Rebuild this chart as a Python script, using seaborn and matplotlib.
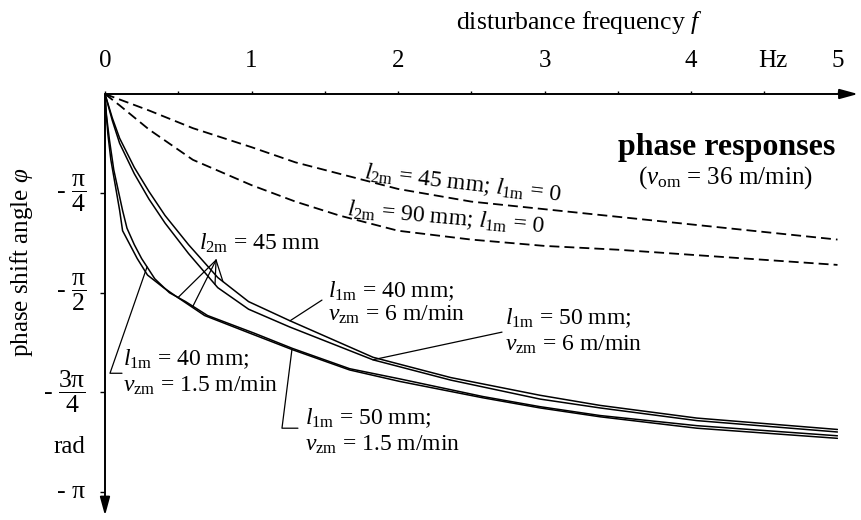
import matplotlib
matplotlib.use("Agg")
import matplotlib.pyplot as plt
import seaborn as sns
import numpy as np

# ---- data: frequency f in Hz, phase shift angle in rad ----
# dashed: l1m = 0
freq_l2m45 = [0, 0.3, 0.6, 1.0, 1.3, 1.6, 2.0, 2.5, 3.0, 3.5, 4.0, 4.5, 5.0]
phase_l2m45 = [0, -0.13, -0.27, -0.42, -0.54, -0.63, -0.75, -0.85, -0.91, -0.97, -1.03, -1.09, -1.15]

freq_l2m90 = [0, 0.1, 0.3, 0.6, 1.0, 1.3, 1.6, 2.0, 2.5, 3.0, 3.5, 4.0, 4.5, 5.0]
phase_l2m90 = [0, -0.09, -0.28, -0.52, -0.72, -0.85, -0.96, -1.08, -1.15, -1.20, -1.23, -1.27, -1.31, -1.35]

# solid, vzm = 6 m/min
freq_vz6 = [0, 0.05, 0.1, 0.2, 0.3, 0.41, 0.57, 0.77, 0.98, 1.26, 1.83, 2.36, 2.97, 3.38, 4.04, 5.0]
phase_l1m40_vz6 = [0, -0.19, -0.35, -0.58, -0.77, -0.96, -1.19, -1.45, -1.64, -1.79, -2.08, -2.24, -2.38, -2.46, -2.56, -2.65]
phase_l1m50_vz6 = [0, -0.21, -0.39, -0.63, -0.83, -1.02, -1.26, -1.53, -1.70, -1.84, -2.10, -2.26, -2.41, -2.48, -2.58, -2.67]

# solid, vzm = 1.5 m/min
freq_l1m40_vz15 = [0, 0.01, 0.03, 0.06, 0.09, 0.12, 0.15, 0.2, 0.25, 0.34, 0.44, 0.55, 0.7,
                   1.02, 1.28, 1.67, 2.01, 2.58, 2.97, 3.38, 4.04, 5.0]
phase_l1m40_vz15 = [0, -0.17, -0.36, -0.60, -0.76, -0.92, -1.06, -1.19, -1.30, -1.46, -1.57, -1.64, -1.75,
                    -1.89, -2.01, -2.17, -2.25, -2.39, -2.47, -2.54, -2.62, -2.70]
freq_l1m50_vz15 = [0, 0.007, 0.02, 0.04, 0.07, 0.1, 0.12, 0.17, 0.22, 0.29, 0.4, 0.5, 0.68,
                   0.99, 1.28, 1.67, 2.01, 2.58, 2.97, 3.38, 4.04, 5.0]
phase_l1m50_vz15 = [0, -0.14, -0.32, -0.52, -0.72, -0.92, -1.08, -1.19, -1.30, -1.43, -1.53, -1.61, -1.75,
                    -1.89, -2.02, -2.18, -2.27, -2.40, -2.48, -2.55, -2.64, -2.72]

x_ticks = [0, 1, 2, 3, 4, 5]
x_tick_labels = ["0", "1", "2", "3", "4", "5"]
x_minor_ticks = [0.5, 1.5, 2.5, 3.5, 4.5]
y_ticks = [-np.pi / 4, -np.pi / 2, -3 * np.pi / 4, -np.pi]
y_tick_labels = [r"- $\dfrac{\mathrm{\pi}}{4}$", r"- $\dfrac{\mathrm{\pi}}{2}$",
                 r"- $\dfrac{3\mathrm{\pi}}{4}$", "- π"]

# ---- style ----
sns.set_theme(style="white")
plt.rcParams["font.family"] = ["Liberation Serif", "DejaVu Serif"]
plt.rcParams["mathtext.fontset"] = "custom"
plt.rcParams["mathtext.rm"] = "Liberation Serif"
plt.rcParams["mathtext.it"] = "Liberation Serif:italic"
plt.rcParams["mathtext.bf"] = "Liberation Serif:bold"
plt.rcParams["axes.unicode_minus"] = False
for key in ["text.color", "axes.labelcolor", "xtick.color", "ytick.color"]:
    plt.rcParams[key] = "black"

fig = plt.figure(figsize=(8.61, 5.20), dpi=100)
ax = fig.add_axes([105 / 861, 1 - 491.7 / 520, 732.5 / 861, 397.7 / 520])
ax.set_xlim(0, 5)
ax.set_ylim(-np.pi, 0)
for s in ax.spines.values():
    s.set_visible(False)
ax.patch.set_alpha(0)

LW = 1.1
DLW = 1.3
dash = (0, (5.5, 2.8))
sns.lineplot(x=freq_l2m45, y=phase_l2m45, ax=ax, color="black", linewidth=DLW,
             linestyle=dash, sort=False, estimator=None, legend=False)
sns.lineplot(x=freq_l2m90, y=phase_l2m90, ax=ax, color="black", linewidth=DLW,
             linestyle=dash, sort=False, estimator=None, legend=False)
for fr, ph in [(freq_vz6, phase_l1m40_vz6), (freq_vz6, phase_l1m50_vz6),
               (freq_l1m40_vz15, phase_l1m40_vz15), (freq_l1m50_vz15, phase_l1m50_vz15)]:
    sns.lineplot(x=fr, y=ph, ax=ax, color="black", linewidth=LW,
                 sort=False, estimator=None, legend=False)
ax.set_xlabel("")
ax.set_ylabel("")

# axes drawn as arrows from the origin
arrow = dict(arrowstyle="-|>,head_length=1.1,head_width=0.3", color="black",
             lw=1.4, shrinkA=0, shrinkB=0, mutation_scale=10)
ax.annotate("", xy=(5.14, 0), xytext=(0, 0), arrowprops=arrow, annotation_clip=False)
ax.annotate("", xy=(0, -3.33), xytext=(0, 0), arrowprops=arrow, annotation_clip=False)

# ticks
ax.xaxis.set_ticks_position("top")
ax.set_xticks(x_ticks, labels=x_tick_labels)
ax.set_xticks(x_minor_ticks, minor=True)
ax.tick_params(axis="x", which="both", direction="out", length=2.5, width=1.0, color="black",
               top=True, bottom=False, labeltop=True, labelbottom=False, pad=13, labelsize=18)
ax.set_yticks(y_ticks, labels=y_tick_labels)
ax.tick_params(axis="y", which="both", direction="out", length=3.5, width=1.0, color="black",
               left=True, right=False, pad=10.5, labelsize=18.5)
for lab in ax.get_yticklabels():
    lab.set_verticalalignment("center")
ax.annotate("Hz", xy=(4.56, 1.0), xycoords=("data", "axes fraction"), xytext=(0, 15.5),
            textcoords="offset points", ha="center", va="bottom", fontsize=18)
ax.annotate("rad", xy=(0, -2.79), xytext=(-14.4, 0), textcoords="offset points",
            ha="right", va="center", fontsize=18)

fig.text(579 / 861, 1 - 22 / 520, r"disturbance frequency $f$", ha="center", va="center", fontsize=18.5)
fig.text(22 / 861, 1 - 262 / 520, r"phase shift angle $\varphi$", rotation=90,
         ha="center", va="center", fontsize=18)

# titles on the right
ax.text(4.983, -0.419, "phase responses", ha="right", va="center", fontsize=23, fontweight="bold")
ax.text(4.833, -0.664, r"($v_{\mathrm{om}}$ = 36 m/min)", ha="right", va="center", fontsize=18)

FS = 17
# dashed curve labels, sloping down along the curves
ax.text(2.444, -0.711, r"$l_{\mathrm{2m}}$ = 45 mm; $l_{\mathrm{1m}}$ = 0", rotation=-6.6,
        rotation_mode="anchor", ha="center", va="center", fontsize=FS)
ax.text(2.328, -0.980, r"$l_{\mathrm{2m}}$ = 90 mm; $l_{\mathrm{1m}}$ = 0", rotation=-5.0,
        rotation_mode="anchor", ha="center", va="center", fontsize=FS)

# solid curve labels
ax.text(1.058, -1.178, r"$l_{\mathrm{2m}}$ = 45 mm", ha="center", va="center", fontsize=FS)
ax.text(1.522, -1.557, r"$l_{\mathrm{1m}}$ = 40 mm;", ha="left", va="center", fontsize=FS)
ax.text(1.522, -1.747, r"$v_{\mathrm{zm}}$ = 6 m/min", ha="left", va="center", fontsize=FS)
ax.text(2.730, -1.771, r"$l_{\mathrm{1m}}$ = 50 mm;", ha="left", va="center", fontsize=FS)
ax.text(2.730, -1.984, r"$v_{\mathrm{zm}}$ = 6 m/min", ha="left", va="center", fontsize=FS)
ax.text(0.123, -2.095, r"$l_{\mathrm{1m}}$ = 40 mm;", ha="left", va="center", fontsize=FS)
ax.text(0.123, -2.308, r"$v_{\mathrm{zm}}$ = 1.5 m/min", ha="left", va="center", fontsize=FS)
ax.text(1.365, -2.557, r"$l_{\mathrm{1m}}$ = 50 mm;", ha="left", va="center", fontsize=FS)
ax.text(1.365, -2.775, r"$v_{\mathrm{zm}}$ = 1.5 m/min", ha="left", va="center", fontsize=FS)

# leader lines ending on the curves
LLW = 0.9
def leader(points, f_end, freq, phase):
    xs = [p[0] for p in points] + [f_end]
    ys = [p[1] for p in points] + [float(np.interp(f_end, freq, phase))]
    ax.plot(xs, ys, color="black", lw=LLW, clip_on=False)

leader([(1.481, -1.628)], 1.263, freq_vz6, phase_l1m40_vz6)
leader([(2.71, -1.881)], 1.829, freq_vz6, phase_l1m50_vz6)
leader([(0.116, -2.206), (0.034, -2.206)], 0.287, freq_l1m40_vz15, phase_l1m40_vz15)
leader([(1.317, -2.640), (1.208, -2.640)], 1.276, freq_l1m50_vz15, phase_l1m50_vz15)
apex = (0.758, -1.312)
leader([apex], 0.498, freq_l1m50_vz15, phase_l1m50_vz15)
leader([apex], 0.60, freq_l1m40_vz15, phase_l1m40_vz15)
leader([apex], 0.751, freq_vz6, phase_l1m50_vz6)
leader([apex], 0.805, freq_vz6, phase_l1m40_vz6)

fig.savefig("out.png", dpi=100)
